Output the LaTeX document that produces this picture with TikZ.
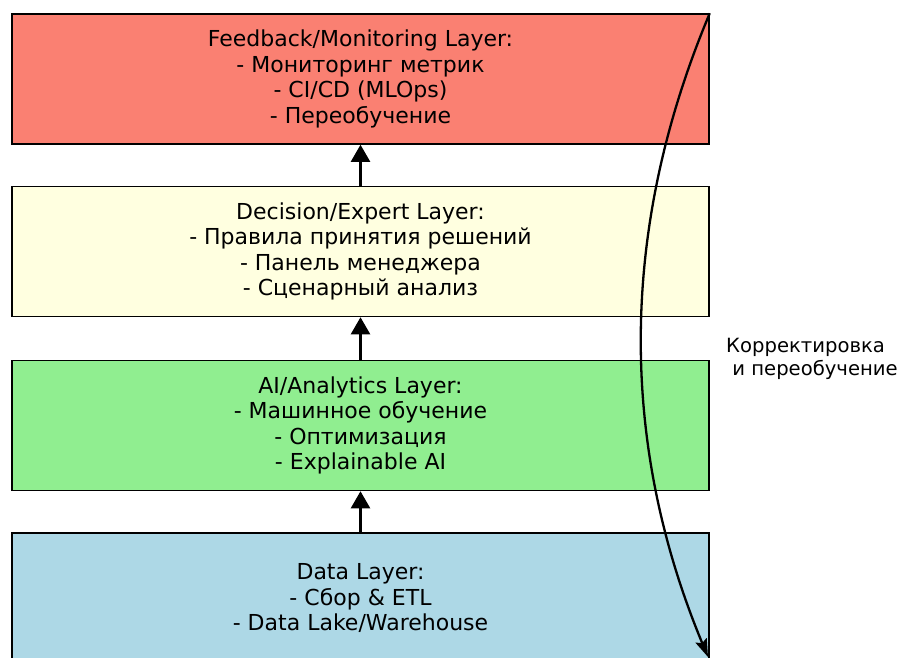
\documentclass[tikz,border=0pt]{standalone}
\usepackage{fontspec}
\setmainfont{DejaVu Sans}
\usetikzlibrary{arrows.meta}
\definecolor{fbcol}{HTML}{FA8072}
\definecolor{decol}{HTML}{FFFFE0}
\definecolor{aicol}{HTML}{90EE90}
\definecolor{dacol}{HTML}{ADD8E6}
\tikzset{
  layerbox/.style={draw=black, line width=1.5pt, minimum width=697pt, minimum height=130pt,
    inner sep=0pt, align=center, font=\fontsize{22}{25.5}\selectfont},
  uparrow/.style={line width=2.2pt, -{Triangle[length=17pt,width=19pt]}},
  backarrow/.style={line width=2.3pt, -{Stealth[length=18pt,width=12pt,inset=3pt]}},
}
\begin{document}
\begin{tikzpicture}[x=1pt,y=-1pt]
\useasboundingbox (0,0) rectangle (900,657);
\clip (0,0) rectangle (900,657);
\node[layerbox, fill=fbcol] (fb) at (360.5,79) {Feedback/Monitoring Layer:\\- Мониторинг метрик\\- CI/CD (MLOps)\\- Переобучение};
\node[layerbox, fill=decol] (de) at (360.5,251.5) {Decision/Expert Layer:\\- Правила принятия решений\\- Панель менеджера\\- Сценарный анализ};
\node[layerbox, fill=aicol] (ai) at (360.5,425.5) {AI/Analytics Layer:\\- Машинное обучение\\- Оптимизация\\- Explainable AI};
\node[layerbox, fill=dacol] (da) at (360.5,598) {Data Layer:\\- Сбор \& ETL\\- Data Lake/Warehouse};
\draw[uparrow] (da.north) -- (ai.south);
\draw[uparrow] (ai.north) -- (de.south);
\draw[uparrow] (de.north) -- (fb.south);
\coordinate (end) at (708,657);
\draw[backarrow] (fb.north east) .. controls (619,229) and (619,443) .. (end);
\node[anchor=north west, align=left, inner sep=0pt, font=\fontsize{19.6}{23}\selectfont] (lbl) at (726,338) {Корректировка\\\ и переобучение};
\end{tikzpicture}
\end{document}
